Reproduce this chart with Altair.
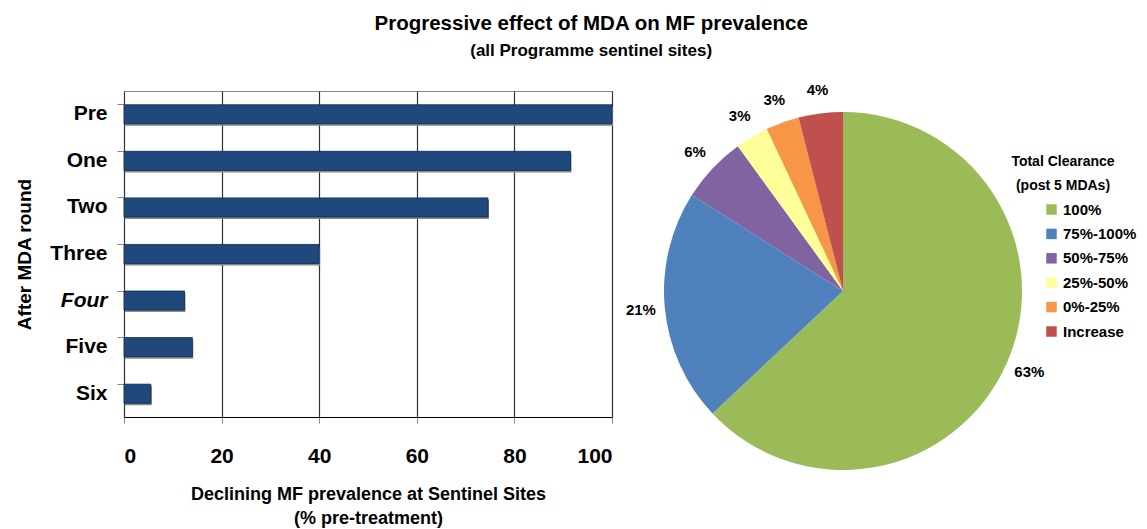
import altair as alt
import pandas as pd

FONT = "Liberation Sans, Arial, sans-serif"

# ---- data ----
rounds = ["Pre", "One", "Two", "Three", "Four", "Five", "Six"]
prevalence = [100, 91.5, 74.6, 40, 12.4, 14, 5.5]

clearance_cats = ["100%", "75%-100%", "50%-75%", "25%-50%", "0%-25%", "Increase"]
clearance_share = [63, 21, 6, 3, 3, 4]
clearance_labels = ["63%", "21%", "6%", "3%", "3%", "4%"]
clearance_colors = ["#9BBB59", "#4F81BD", "#8064A2", "#FFFF99", "#F79646", "#C0504D"]

legend_title = ["Total Clearance", "(post 5 MDAs)"]

bar_df = pd.DataFrame({"round": rounds, "value": prevalence})
pie_df = pd.DataFrame({
    "cat": clearance_cats,
    "share": clearance_share,
    "label": clearance_labels,
    "order": list(range(len(clearance_cats))),
})

# ---- bar chart ----
xenc = alt.X("value:Q",
             scale=alt.Scale(domain=[0, 100], nice=False),
             axis=alt.Axis(values=[0, 20, 40, 60, 80, 100], grid=True,
                           gridColor="#333333", gridWidth=1.2,
                           domainColor="#000000", tickColor="#888888",
                           tickSize=6, labelPadding=22, labelFontSize=21,
                           labelFont=FONT, labelFontWeight="bold", labelColor="#000",
                           title=["Declining MF prevalence at Sentinel Sites", "(% pre-treatment)"],
                           titleFont=FONT, titleFontSize=18, titleFontWeight="bold",
                           titleColor="#000", titlePadding=19, titleLineHeight=24))
yenc = alt.Y("round:N", sort=rounds,
             scale=alt.Scale(paddingInner=0.59, paddingOuter=0.295),
             axis=alt.Axis(bandPosition=0, tickSize=7, tickColor="#888888",
                           domain=False, labelPadding=10, labelFontSize=21,
                           labelFont=FONT, labelFontWeight="bold", labelColor="#000",
                           labelFontStyle=alt.ExprRef("datum.value == 'Four' ? 'italic' : 'normal'"),
                           title="After MDA round", titleFont=FONT, titleFontSize=19,
                           titleFontWeight="bold", titleColor="#000", titlePadding=15))

shadow = alt.Chart(bar_df).mark_bar(color="#8a8a8a", yOffset=2, xOffset=1).encode(
    x=xenc, y=yenc)
bars_main = alt.Chart(bar_df).mark_bar(
    color="#1F497D", stroke="#10284a", strokeWidth=0.8
).encode(x=xenc, y=yenc)

bars = alt.layer(shadow, bars_main).properties(
    width=488, height=326,
    view=alt.ViewBackground(stroke="#888888", strokeWidth=1))

# ---- pie chart ----
PCX, PCY = 219, 200  # pie centre within its view
base = alt.Chart(pie_df).encode(
    theta=alt.Theta("share:Q", stack=True),
    order=alt.Order("order:Q"),
)
arcs = base.mark_arc(outerRadius=179).encode(
    x=alt.value(PCX), y=alt.value(PCY),
    color=alt.Color("cat:N", sort=clearance_cats,
                    scale=alt.Scale(domain=clearance_cats, range=clearance_colors),
                    legend=alt.Legend(orient="none", legendX=920, legendY=111,
                                      title=None, symbolType="square", symbolSize=110,
                                      symbolStrokeWidth=0, labelFont=FONT,
                                      labelFontSize=15, labelFontWeight="bold",
                                      labelColor="#000", rowPadding=8.4, labelOffset=4)),
)
texts = base.mark_text(radius=203, font=FONT, fontSize=15, fontWeight="bold",
                       color="#000").encode(
    x=alt.value(PCX), y=alt.value(PCY),
    text="label:N",
)
lt1 = alt.Chart(pd.DataFrame({"t": [legend_title[0]]})).mark_text(
    font=FONT, fontSize=14, fontWeight="bold", color="#000", align="center",
).encode(x=alt.value(439), y=alt.value(71), text="t:N")
lt2 = alt.Chart(pd.DataFrame({"t": [legend_title[1]]})).mark_text(
    font=FONT, fontSize=14, fontWeight="bold", color="#000", align="center",
).encode(x=alt.value(439), y=alt.value(95), text="t:N")

pie = alt.layer(arcs, texts, lt1, lt2).properties(
    width=470, height=326,
    view=alt.ViewBackground(strokeWidth=0, stroke="transparent"))

chart = alt.hconcat(bars, pie, spacing=10).properties(
    title=alt.TitleParams(
        "Progressive effect of MDA on MF prevalence",
        subtitle="(all Programme sentinel sites)",
        font=FONT, fontSize=20.5, fontWeight="bold", color="#000",
        subtitleFont=FONT, subtitleFontSize=17, subtitleFontWeight="bold",
        subtitleColor="#000", subtitlePadding=8, anchor="middle", offset=24, dx=15,
    ),
    padding={"left": 7, "top": 6, "right": 0, "bottom": 0},
).configure_view(strokeWidth=0)

chart.save("out.html", embed_options={"renderer": "svg", "actions": False})
